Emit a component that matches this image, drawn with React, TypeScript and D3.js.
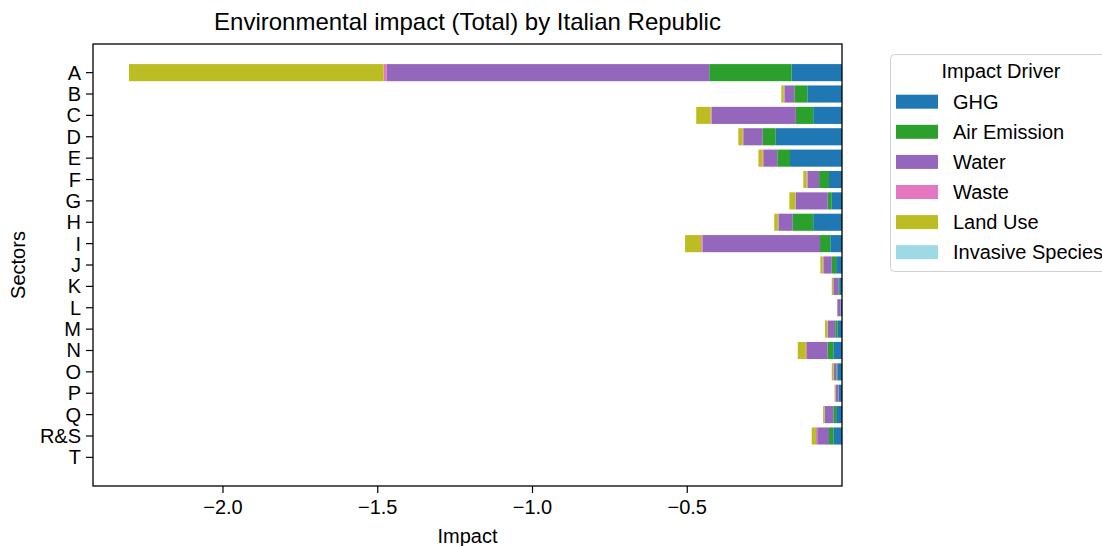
import React from 'react';
import * as d3 from 'd3';

const sectors = ['A','B','C','D','E','F','G','H','I','J','K','L','M','N','O','P','Q','R&S','T'];
const drivers = ['GHG','Air Emission','Water','Waste','Land Use','Invasive Species'];
const colors = ['#1f77b4','#2ca02c','#9467bd','#e377c2','#bcbd22','#9edae5'];

const ghg = [-0.163,-0.112,-0.093,-0.214,-0.168,-0.042,-0.033,-0.093,-0.038,-0.019,-0.009,-0.004,-0.015,-0.028,-0.015,-0.010,-0.019,-0.028,0];
const airEmission = [-0.266,-0.042,-0.056,-0.042,-0.041,-0.032,-0.013,-0.066,-0.033,-0.014,-0.003,-0.001,-0.007,-0.019,-0.003,-0.001,-0.009,-0.014,0];
const water = [-1.043,-0.032,-0.272,-0.063,-0.043,-0.037,-0.103,-0.046,-0.380,-0.027,-0.016,-0.010,-0.024,-0.066,-0.009,-0.010,-0.028,-0.038,0];
const waste = [-0.009,-0.002,-0.003,-0.002,-0.004,-0.003,-0.002,-0.002,-0.004,-0.002,-0.001,-0.001,-0.001,-0.004,-0.001,-0.001,-0.001,-0.004,0];
const landUse = [-0.823,-0.008,-0.047,-0.014,-0.014,-0.011,-0.019,-0.012,-0.052,-0.008,-0.004,0,-0.008,-0.026,-0.005,-0.002,-0.004,-0.014,0];
const invasiveSpecies = [0,0,0,0,0,0,0,0,0,0,0,0,0,0,0,0,0,0,0];

const xTicks = [-2.0,-1.5,-1.0,-0.5];

const seriesValues = [ghg, airEmission, water, waste, landUse, invasiveSpecies];

export default function App() {
  const W = 1102, H = 546;
  const left = 93, right = 842, top = 44, bottom = 486;
  const font = 'Liberation Sans, Arial, sans-serif';

  const x = d3.scaleLinear().domain([-2.42, 0]).range([left, right]);
  const y = d3.scaleLinear().domain([-1.34, sectors.length - 1 + 1.34]).range([top, bottom]);
  const barH = y(0.4) - y(-0.4);

  const rows = sectors.map((s, i) => {
    const o: any = { sector: s };
    drivers.forEach((d, k) => { o[d] = seriesValues[k][i]; });
    return o;
  });
  const stacked = d3.stack().keys(drivers).offset(d3.stackOffsetDiverging)(rows as any);

  const fmt = (v: number) => (v < 0 ? '\u2212' : '') + d3.format('.1f')(Math.abs(v));

  return (
    <svg width={W} height={H} style={{ position: 'absolute', left: 0, top: 0, background: '#fff' }} fontFamily={font}>
      <rect x={0} y={0} width={W} height={H} fill="#fff" />
      <text x={(left + right) / 2} y={30} textAnchor="middle" fontSize={24} fill="#000">
        Environmental impact (Total) by Italian Republic
      </text>
      {stacked.map((layer, k) => (
        <g key={drivers[k]} fill={colors[k]}>
          {layer.map((d, i) => {
            const x0 = x(Math.max(d[0], d[1]));
            const x1 = x(Math.min(d[0], d[1]));
            const w = x0 - x1;
            if (w <= 0) return null;
            return <rect key={i} x={x1} y={y(i) - barH / 2} width={w} height={barH} />;
          })}
        </g>
      ))}
      <rect x={left} y={top} width={right - left} height={bottom - top} fill="none" stroke="#000" strokeWidth={1.3} />
      {sectors.map((s, i) => (
        <g key={s}>
          <line x1={left - 7} x2={left} y1={y(i)} y2={y(i)} stroke="#000" strokeWidth={1.2} />
          <text x={left - 12} y={y(i) + 7} textAnchor="end" fontSize={20} fill="#000">{s}</text>
        </g>
      ))}
      {xTicks.map(t => (
        <g key={t}>
          <line x1={x(t)} x2={x(t)} y1={bottom} y2={bottom + 7} stroke="#000" strokeWidth={1.2} />
          <text x={x(t)} y={bottom + 28} textAnchor="middle" fontSize={20} fill="#000">{fmt(t)}</text>
        </g>
      ))}
      <text x={(left + right) / 2} y={543} textAnchor="middle" fontSize={20} fill="#000">Impact</text>
      <text transform={`translate(25,${(top + bottom) / 2}) rotate(-90)`} textAnchor="middle" fontSize={20} fill="#000">Sectors</text>
      <g>
        <rect x={890.5} y={54.5} width={230} height={217} rx={4} fill="#fff" fillOpacity={0.8} stroke="#d0d0d0" strokeWidth={1} />
        <text x={1001} y={78} textAnchor="middle" fontSize={20} fill="#000">Impact Driver</text>
        {drivers.map((d, k) => {
          const cy = 101.7 + k * 30.1;
          return (
            <g key={d}>
              <rect x={896} y={cy - 7} width={42} height={14} fill={colors[k]} />
              <text x={953} y={cy + 7} fontSize={20} fill="#000">{d}</text>
            </g>
          );
        })}
      </g>
    </svg>
  );
}
